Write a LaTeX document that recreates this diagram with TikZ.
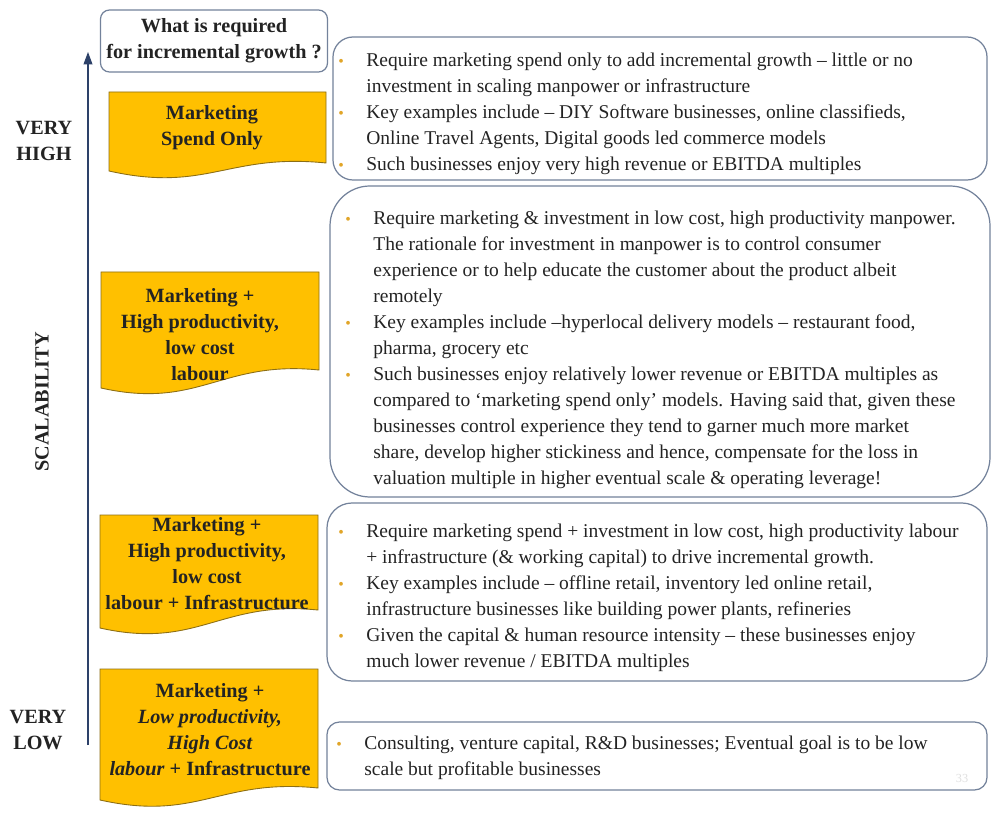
\documentclass[tikz,border=0pt]{standalone}
\usepackage{fontspec}
\setmainfont{Liberation Serif}
\usetikzlibrary{arrows.meta}

\definecolor{gold}{RGB}{255,192,0}
\definecolor{goldedge}{RGB}{140,110,20}
\definecolor{boxedge}{RGB}{115,130,155}
\definecolor{axis}{RGB}{45,65,105}
\definecolor{bulgold}{RGB}{225,165,40}
\definecolor{ink}{RGB}{35,35,35}

\newcommand\bul{\makebox[0.56cm][l]{\textcolor{bulgold}{\small\textbullet}}}
\newcommand\ind{\makebox[0.56cm]{}}
% label shape with a wavy bottom: x left, y top, x right, y right end, y left end
\newcommand\docshape[5]{%
  \filldraw[fill=gold,draw=goldedge,line width=0.5pt] (#1,#2) -- (#3,#2) -- (#3,#4)
    .. controls ({#3-0.45*(#3-#1)},{#4-10}) and ({#1+0.45*(#3-#1)},{#5+22}) .. (#1,#5) -- cycle;}

\begin{document}
\begin{tikzpicture}[x=0.02cm,y=-0.02cm,
    lbl/.style={align=center,text=ink,font=\fontsize{11.5}{14.8}\selectfont\bfseries},
    info/.style={anchor=north west,align=left,inner sep=0pt,text=ink,
      font=\fontsize{11.1}{14.8}\selectfont},
    frame/.style={draw=boxedge,line width=0.7pt}]
  \useasboundingbox[fill=white] (0,0) rectangle (993,813);

  % scale on the left
  \coordinate (lo) at (88,745);
  \coordinate (hi) at (88,52);
  \draw[axis,line width=0.6pt,-{Triangle[length=7pt,width=5pt]}] (lo) -- (hi);
  \node[lbl] (vhigh) at (44,141) {VERY\\HIGH};
  \node[lbl] (vlow) at (38,730) {VERY\\LOW};
  \node[lbl,rotate=90] (scal) at (42,402) {SCALABILITY};

  \node[lbl,frame,rounded corners=0.18cm,fill=white,minimum width=4.52cm,minimum height=1.24cm]
    (head) at (214,41) {What is required\\for incremental growth ?};

  % yellow labels
  \docshape{109}{92}{326}{163}{171}
  \docshape{101}{272}{319}{370}{388}
  \docshape{100}{515}{318}{610}{628}
  \docshape{100}{669}{318}{788}{800}
  \node[lbl] (m1) at (212,128) {Marketing\\Spend Only};
  \node[lbl] (m2) at (200,335) {Marketing +\\High productivity,\\low cost\\labour};
  \node[lbl] (m3) at (207,564) {Marketing +\\High productivity,\\low cost\\labour + Infrastructure};
  \node[lbl] (m4) at (210,730) {Marketing +\\\textit{Low productivity,}\\\textit{High Cost}\\\textit{labour} + Infrastructure};

  % boxes with the notes
  \draw[frame,rounded corners=0.4cm] (333,37) rectangle (987,180);
  \draw[frame,rounded corners=0.8cm] (330,186) rectangle (990,497);
  \draw[frame,rounded corners=0.5cm] (327,503) rectangle (987,681);
  \draw[frame,rounded corners=0.25cm] (327,722) rectangle (987,790);

  \node[info] (t1) at (338,53) {%
    \bul Require marketing spend only to add incremental growth -- little or no\\
    \ind investment in scaling manpower or infrastructure\\
    \bul Key examples include -- DIY Software businesses, online classifieds,\\
    \ind Online Travel Agents, Digital goods led commerce models\\
    \bul Such businesses enjoy very high revenue or EBITDA multiples};
  \node[info] (t2) at (345,211) {%
    \bul Require marketing \& investment in low cost, high productivity manpower.\\
    \ind The rationale for investment in manpower is to control consumer\\
    \ind experience or to help educate the customer about the product albeit\\
    \ind remotely\\
    \bul Key examples include --hyperlocal delivery models -- restaurant food,\\
    \ind pharma, grocery etc\\
    \bul Such businesses enjoy relatively lower revenue or EBITDA multiples as\\
    \ind compared to `marketing spend only' models. Having said that, given these\\
    \ind businesses control experience they tend to garner much more market\\
    \ind share, develop higher stickiness and hence, compensate for the loss in\\
    \ind valuation multiple in higher eventual scale \& operating leverage!};
  \node[info] (t3) at (338,524) {%
    \bul Require marketing spend + investment in low cost, high productivity labour\\
    \ind + infrastructure (\& working capital) to drive incremental growth.\\
    \bul Key examples include -- offline retail, inventory led online retail,\\
    \ind infrastructure businesses like building power plants, refineries\\
    \bul Given the capital \& human resource intensity -- these businesses enjoy\\
    \ind much lower revenue / EBITDA multiples};
  \node[info] (t4) at (336,736) {%
    \bul Consulting, venture capital, R\&D businesses; Eventual goal is to be low\\
    \ind scale but profitable businesses};

  \node[text=black!12,font=\fontsize{7}{8}\selectfont] (pg) at (962,778) {33};
\end{tikzpicture}
\end{document}
